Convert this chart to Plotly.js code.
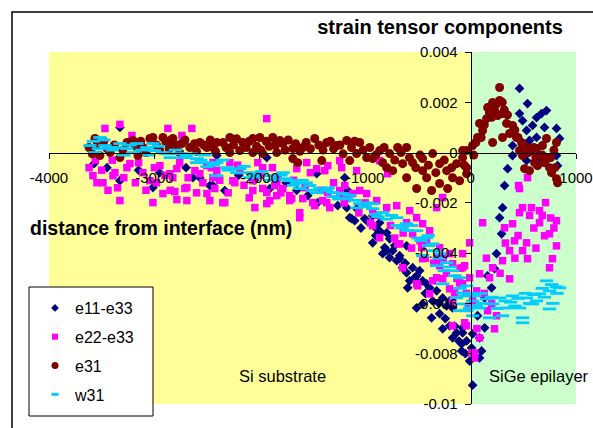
<!DOCTYPE html>
<html>
<head>
<meta charset="utf-8">
<script src="https://cdn.plot.ly/plotly-3.0.1.min.js"></script>
<style>html,body{margin:0;padding:0;background:#fff;}#chart{width:593px;height:428px;}</style>
</head>
<body>
<div id="chart"></div>
<script>
// ---- data ----
const seriesNames = ["e11-e33", "e22-e33", "e31", "w31"];

const e11X = [-3573,-3327,-3014,-2825,-2474,-2332,-1934,-2635,-3327,-2569,-2408,-2445,-1905,-1460,-1261,-1194,-1545,-1450,-1175,-1166,-1147,-1100,-1005,-1081,-938,-891,-863,-796,-929,-834,-929,-863,-815,-768,-739,-673,-607,-701,-645,-550,-483,-578,-512,-455,-597,-389,-322,-265,-199,-360,-455,-171,-227,-1128,-986,-863,-796,-768,-673,-607,-531,-417,-512,-370,-294,-265,-199,-133,-171,-76,-38,-85,-9,
  303,275,294,246,227,199,161,133,133,66,19,85,104,85,-85,-76,9,19,
  464,540,464,493,626,720,673,588,531,701,815,559,626,844,398,398,531,815,825,730,654,351,322,
  -3450,-3150,-2950,-2700,-2200,-2050,-1750,-1650,
  -1040,-900,-720,-620,-500,-430,-300,-240,-150,-110,-50];
const e11Y = [-0.00044,0.00100,-0.00139,0.00036,-0.00131,-0.00151,-0.00020,-0.00100,-0.00112,-0.00100,-0.00012,-0.00131,-0.00143,-0.00084,-0.00211,-0.00100,-0.00171,-0.00199,-0.00219,-0.00151,-0.00259,-0.00271,-0.00263,-0.00223,-0.00283,-0.00303,-0.00279,-0.00319,-0.00359,-0.00402,-0.00251,-0.00311,-0.00378,-0.00343,-0.00390,-0.00410,-0.00371,-0.00430,-0.00458,-0.00458,-0.00470,-0.00510,-0.00490,-0.00510,-0.00538,-0.00538,-0.00550,-0.00578,-0.00590,-0.00590,-0.00602,-0.00618,-0.00610,-0.00263,-0.00271,-0.00323,-0.00390,-0.00418,-0.00422,-0.00478,-0.00498,-0.00522,-0.00618,-0.00657,-0.00641,-0.00701,-0.00689,-0.00717,-0.00737,-0.00717,-0.00749,-0.00789,-0.00829,
  -0.00219,-0.00259,-0.00323,-0.00402,-0.00462,-0.00538,-0.00490,-0.00578,-0.00697,-0.00649,-0.00721,-0.00737,-0.00789,-0.00817,-0.00761,-0.00697,-0.00777,-0.00925,
  0.00255,0.00195,0.00155,0.00127,0.00139,0.00167,0.00155,0.00108,0.00088,0.00100,0.00096,0.00048,0.00060,0.00056,0.00028,-0.00012,-0.00032,-0.00012,-0.00052,-0.00024,-0.00020,-0.00064,-0.00131,
  -0.00060,-0.00070,-0.00080,-0.00060,-0.00090,-0.00110,-0.00120,-0.00150,
  -0.00300,-0.00330,-0.00370,-0.00440,-0.00520,-0.00560,-0.00600,-0.00660,-0.00690,-0.00750,-0.00800];

const e22X = [-3469,-3327,-2872,-2645,-2739,-3213,-1934,-3583,-3545,-3488,-3374,-3232,-3109,-2948,-3043,-2825,-2692,-2569,-2445,-2256,-2190,-2066,-1972,-1839,-3327,-3014,-2919,-2806,-2711,-2787,-2692,-2502,-2351,-2047,-1905,-1934,-1716,-3393,-3261,-2853,-2787,-2616,-2502,-2408,-2474,-2427,-2445,-2284,-2019,-1829,-1649,-1555,-1460,-1355,-1223,-2237,-2066,-1972,-1858,-1716,-1592,-1498,-1365,-1242,-2332,-1934,-1621,-1479,-1194,-1839,-1782,-1621,-1697,-1403,-1336,-1355,-1242,-1175,-1119,-1052,-986,-891,-796,-863,-929,-1242,-1384,-1081,-863,-787,-701,-578,-512,-455,-389,-607,-550,-692,-417,-294,-199,-322,-171,-76,-294,-9,-455,-645,-512,-389,-199,-76,-171,-322,-9,-265,-322,-929,-673,-502,-464,-360,-265,-152,-171,-57,9,-76,-57,-104,
  85,180,209,303,370,370,493,540,531,322,398,464,493,711,654,815,749,815,777,749,114,227,85,38,38,-38,161,57,19,246,540,455,464,578,654,417,701,
  -3620,-3560,-3500,-3440,-3400,-3350,-3290,-3180,-3150,-3080,-3000,-2980,-2900,-2850,-2760,-2680,-2600,-2540,-2460,-2380,-2300,-2210,-2150,-2100,-2000,-1880,-1800,-1680,-1570,-1520,-1420,-1300,-1200,-1060,-1000,-950,-880,-760,-720,-640,-560,-480,-430,-350,-260,-230,-130,-100,-40,-20,
  130,200,280,330,450,600,680,760,790,620,560,420,60,150];
const e22Y = [0.00096,0.00112,0.00096,0.00096,0.00068,0.00068,0.00135,-0.00092,-0.00120,-0.00120,-0.00080,-0.00044,-0.00080,-0.00052,-0.00112,-0.00100,-0.00139,-0.00084,-0.00100,-0.00112,-0.00072,-0.00112,-0.00060,-0.00120,-0.00191,-0.00199,-0.00163,-0.00155,-0.00143,-0.00187,-0.00191,-0.00163,-0.00199,-0.00219,-0.00191,-0.00159,-0.00191,-0.00092,-0.00060,-0.00084,-0.00064,-0.00072,-0.00052,-0.00072,-0.00191,-0.00143,-0.00040,-0.00040,-0.00040,-0.00100,-0.00064,-0.00040,-0.00064,-0.00052,-0.00060,-0.00120,-0.00151,-0.00143,-0.00131,-0.00171,-0.00183,-0.00199,-0.00199,-0.00171,-0.00199,-0.00203,-0.00239,-0.00211,-0.00131,-0.00171,-0.00143,-0.00259,-0.00183,-0.00191,-0.00219,-0.00159,-0.00151,-0.00183,-0.00163,-0.00151,-0.00163,-0.00191,-0.00219,-0.00339,-0.00239,-0.00032,-0.00072,-0.00072,-0.00032,-0.00084,-0.00211,-0.00231,-0.00259,-0.00283,-0.00311,-0.00279,-0.00323,-0.00363,-0.00359,-0.00378,-0.00402,-0.00422,-0.00442,-0.00458,-0.00450,-0.00359,-0.00422,-0.00458,-0.00522,-0.00562,-0.00542,-0.00522,-0.00590,-0.00498,-0.00498,-0.00179,-0.00219,-0.00291,-0.00363,-0.00530,-0.00378,-0.00510,-0.00502,-0.00558,-0.00689,-0.00677,-0.00797,-0.00402,-0.00450,-0.00518,
  -0.00482,-0.00498,-0.00458,-0.00430,-0.00502,-0.00390,-0.00390,-0.00422,-0.00359,-0.00299,-0.00283,-0.00239,-0.00219,-0.00199,-0.00279,-0.00271,-0.00323,-0.00371,-0.00422,-0.00458,-0.00279,-0.00701,-0.00737,-0.00797,-0.00817,-0.00689,-0.00629,-0.00550,-0.00590,-0.00649,-0.00100,-0.00131,-0.00143,-0.00219,-0.00231,-0.00351,-0.00331,
  -0.00060,-0.00030,-0.00070,-0.00150,-0.00030,-0.00140,-0.00100,-0.00120,-0.00040,-0.00150,-0.00060,-0.00120,-0.00090,-0.00150,-0.00040,-0.00100,-0.00160,-0.00120,-0.00060,-0.00110,-0.00160,-0.00050,-0.00130,-0.00180,-0.00090,-0.00060,-0.00160,-0.00110,-0.00140,-0.00080,-0.00150,-0.00120,-0.00200,-0.00240,-0.00200,-0.00280,-0.00250,-0.00290,-0.00340,-0.00320,-0.00380,-0.00350,-0.00420,-0.00440,-0.00420,-0.00480,-0.00500,-0.00460,-0.00560,-0.00620,
  -0.00560,-0.00600,-0.00480,-0.00360,-0.00330,-0.00300,-0.00250,-0.00260,-0.00300,-0.00380,-0.00250,-0.00420,-0.00700,-0.00420];

const e31X = [-3564,-3517,-3450,-3327,-3204,-3109,-3014,-2919,-2825,-2739,-2664,-2569,-2445,-2284,-2190,-2066,-1972,-1877,-1782,-1687,-3156,-3043,-2853,-2502,-2408,-2161,-2000,-1810,-1592,-1479,-1365,-1270,-1175,-2284,-2066,-1839,-1640,-1412,-1687,-1052,-957,-863,-768,-692,-607,-1147,-986,-834,-739,-645,-550,-455,-360,-294,-227,-133,-76,-38,-607,-512,-417,-370,-294,-218,-171,-104,-38,-455,-796,-929,-1081,
  -76,-38,19,66,114,85,152,161,209,275,275,227,256,303,341,398,370,303,209,436,483,531,493,464,578,626,682,720,815,654,607,635,730,749,768,815,825,512,559,180,
  -3620,-3590,-3540,-3480,-3420,-3380,-3300,-3260,-3180,-3130,-3080,-2980,-2950,-2890,-2860,-2790,-2760,-2710,-2620,-2600,-2530,-2470,-2420,-2350,-2320,-2250,-2220,-2130,-2100,-2030,-1990,-1940,-1910,-1850,-1760,-1730,-1660,-1620,-1560,-1520,-1440,-1400,-1330,-1300,-1240,-1210,-1130,-1100,-1020,-900,-820,-720,-660,-580,-520,-480,-400,-330,-250,-180,-60,
  30,50,100,130,180,200,240,300,320,350,420,450,500,550,600,620,680,700,760,790,800];
const e31Y = [0.00056,-0.00012,0.00016,-0.00020,0.00048,0.00020,0.00060,0.00060,0.00056,0.00036,0.00020,0.00040,0.00020,0.00060,0.00008,0.00056,-0.00004,0.00060,0.00036,0.00016,-0.00012,0.00056,0.00048,0.00020,0.00040,0.00040,0.00060,0.00048,0.00020,0.00056,0.00040,0.00028,0.00048,0.00000,0.00000,0.00000,-0.00040,-0.00032,-0.00024,0.00040,0.00020,0.00008,-0.00004,0.00020,0.00020,-0.00032,-0.00020,-0.00040,-0.00072,-0.00044,-0.00040,-0.00024,-0.00004,-0.00044,-0.00072,-0.00044,-0.00020,0.00008,-0.00100,-0.00143,-0.00100,-0.00151,-0.00123,-0.00143,-0.00100,-0.00112,-0.00084,-0.00072,-0.00060,-0.00024,-0.00004,
  0.00008,-0.00060,0.00028,0.00060,0.00088,0.00116,0.00135,0.00179,0.00199,0.00207,0.00259,0.00167,0.00147,0.00155,0.00116,0.00108,0.00076,0.00060,0.00040,0.00060,0.00040,0.00020,-0.00012,0.00008,0.00008,0.00016,0.00028,0.00056,0.00040,-0.00012,-0.00040,-0.00052,-0.00024,-0.00060,-0.00080,-0.00104,-0.00120,-0.00064,-0.00072,0.00160,
  0.00020,-0.00005,0.00035,0.00045,0.00000,0.00030,0.00010,0.00040,0.00025,0.00045,0.00000,0.00030,0.00010,0.00040,0.00015,0.00030,0.00000,0.00050,0.00035,0.00005,0.00030,0.00050,0.00005,0.00040,0.00020,0.00030,0.00055,0.00020,0.00045,0.00025,0.00010,0.00045,0.00025,0.00030,0.00010,0.00050,0.00035,0.00005,0.00040,0.00015,0.00030,0.00010,0.00045,0.00015,0.00030,-0.00005,0.00020,0.00045,0.00010,-0.00010,0.00020,-0.00030,0.00000,-0.00020,-0.00060,-0.00010,-0.00050,-0.00080,-0.00030,-0.00060,-0.00050,
  -0.00010,0.00040,0.00060,0.00110,0.00160,0.00140,0.00190,0.00200,0.00170,0.00150,0.00090,0.00060,0.00030,0.00000,0.00020,-0.00020,-0.00010,-0.00040,-0.00020,0.00010,-0.00060];

const w31X = [-3517,-3422,-3261,-3071,-2919,-2758,-2597,-2474,-3327,-3166,-3014,-3612,-3564,-3469,-2408,-2313,-2218,-2066,-1905,-1744,-1649,-1526,-1431,-1308,-1213,-2408,-2190,-2095,-1716,-1365,-1621,-1175,-1052,-929,-834,-929,-701,-607,-512,-417,-360,-294,-227,-171,-104,-38,-322,-455,-265,-133,-76,-9,-104,
  -3400,-3200,-3000,-2850,-2700,-2600,-2500,-2300,-2100,-1900,-1800,-1600,-1500,-1300,-1100,-1000,-900,-800,-700,-600,-500,-400,-300,-200,-100,0,
  -76,19,152,275,398,531,654,749,844,720,815,85,209,341,464,588,19,180,303,493,493,749,-38,626,50,120,250,380,450,600,700,780,
  -3580,-3530,-3480,-3360,-3290,-3230,-3120,-3050,-2960,-2880,-2800,-2720,-2650,-2560,-2520,-2440,-2350,-2270,-2150,-2050,-1980,-1850,-1780,-1680,-1560,-1460,-1350,-1250,-1150,-1080,-980,-880,-750,-650,-560,-470,-400,-340,-250,-150,-60,
  30,100,200,330,420,520,560,680,770,820];
const w31Y = [0.00060,0.00020,0.00016,0.00020,0.00000,-0.00004,-0.00024,-0.00040,0.00036,0.00036,0.00036,0.00028,0.00000,0.00028,-0.00040,-0.00060,-0.00080,-0.00084,-0.00092,-0.00104,-0.00120,-0.00131,-0.00143,-0.00159,-0.00163,-0.00092,-0.00064,-0.00080,-0.00112,-0.00151,-0.00143,-0.00183,-0.00203,-0.00223,-0.00239,-0.00203,-0.00259,-0.00283,-0.00311,-0.00339,-0.00363,-0.00402,-0.00438,-0.00470,-0.00498,-0.00530,-0.00450,-0.00410,-0.00522,-0.00578,-0.00602,-0.00618,-0.00629,
  0.00010,0.00000,0.00008,-0.00020,-0.00012,-0.00040,-0.00056,-0.00070,-0.00100,-0.00110,-0.00090,-0.00110,-0.00150,-0.00175,-0.00190,-0.00215,-0.00245,-0.00265,-0.00290,-0.00310,-0.00340,-0.00370,-0.00420,-0.00455,-0.00540,-0.00560,
  -0.00558,-0.00590,-0.00582,-0.00578,-0.00570,-0.00578,-0.00562,-0.00550,-0.00538,-0.00510,-0.00534,-0.00618,-0.00602,-0.00618,-0.00618,-0.00602,-0.00649,-0.00657,-0.00649,-0.00657,-0.00677,-0.00622,-0.00629,-0.00590,-0.00610,-0.00600,-0.00620,-0.00595,-0.00580,-0.00565,-0.00575,-0.00600,
  0.00045,0.00015,0.00050,0.00020,-0.00010,0.00030,0.00010,-0.00010,0.00025,-0.00005,0.00010,-0.00020,-0.00005,-0.00030,-0.00010,-0.00050,-0.00030,-0.00065,-0.00055,-0.00095,-0.00075,-0.00105,-0.00080,-0.00130,-0.00120,-0.00160,-0.00140,-0.00185,-0.00170,-0.00220,-0.00200,-0.00255,-0.00250,-0.00300,-0.00290,-0.00350,-0.00330,-0.00390,-0.00470,-0.00490,-0.00570,
  -0.00570,-0.00560,-0.00575,-0.00590,-0.00610,-0.00560,-0.00600,-0.00540,-0.00525,-0.00560];

const xTickVals = [-4000, -3000, -2000, -1000, 0, 1000];
const xTickText = ["-4000", "-3000", "-2000", "-1000", "0", "1000"];
const yTickVals = [0.004, 0.002, 0, -0.002, -0.004, -0.006, -0.008, -0.01];
const yTickText = ["0.004", "0.002", "0", "-0.002", "-0.004", "-0.006", "-0.008", "-0.01"];
const regionBounds = [-4000, 0, 1000];
const regionLabels = ["Si substrate", "SiGe epilayer"];

// ---- chart ----
const FONT = "Arial, 'Liberation Sans', sans-serif";
const styles = [
  {symbol: "diamond", size: 7.5, color: "#000080"},
  {symbol: "square", size: 7.5, color: "#FF00FF"},
  {symbol: "circle", size: 9, color: "#800000"},
  {symbol: "line-ew", size: 9.5, color: "#00CCFF", line: {color: "#00CCFF", width: 2.8}}
];
const legendStyles = [
  {symbol: "diamond", size: 6, color: "#000080"},
  {symbol: "square", size: 6, color: "#FF00FF"},
  {symbol: "circle", size: 7, color: "#800000"},
  {symbol: "line-ew", size: 5, color: "#00CCFF", line: {color: "#00CCFF", width: 3}}
];
const dataX = [e11X, e22X, e31X, w31X];
const dataY = [e11Y, e22Y, e31Y, w31Y];
const groups = ["a", "b", "c", "d"];
const traces = [];
for (let i = 0; i < 4; i++) {
  traces.push({x: dataX[i], y: dataY[i], name: seriesNames[i], legendgroup: groups[i], showlegend: false,
               type: "scatter", mode: "markers", marker: styles[i]});
}
for (let i = 0; i < 4; i++) {
  // legend entries (no points drawn)
  traces.push({x: [null], y: [null], name: seriesNames[i], legendgroup: groups[i], showlegend: true,
               type: "scatter", mode: "markers", marker: legendStyles[i]});
}

const L = 49, R = 17, T = 52, B = 24, W = 593, H = 428;
const pw = W - L - R, ph = H - T - B;
const px2x = p => (p - L) / pw;
const py2y = p => (H - B - p) / ph;

const layout = {
  width: W, height: H,
  margin: {l: L, r: R, t: T, b: B, pad: 0},
  paper_bgcolor: "#ffffff",
  plot_bgcolor: "#ffffff",
  font: {family: FONT, color: "#000000", size: 15},
  showlegend: true,
  title: {text: "<b>strain tensor components</b>", font: {family: FONT, size: 20, color: "#000"},
          xref: "paper", x: px2x(440), xanchor: "center", yref: "container", y: 1 - 27 / H, yanchor: "middle"},
  xaxis: {range: [regionBounds[0], regionBounds[2]], anchor: "free", position: (0 - (-0.01)) / 0.014,
          showline: true, linecolor: "#000", linewidth: 1, ticks: "outside", ticklen: 5, tickcolor: "#000",
          tickvals: xTickVals, ticktext: xTickText, showgrid: false, zeroline: false,
          tickfont: {family: FONT, size: 15, color: "#000"}, ticklabelstandoff: 6},
  yaxis: {range: [-0.01, 0.004], anchor: "free", position: (0 - regionBounds[0]) / (regionBounds[2] - regionBounds[0]),
          showline: true, linecolor: "#000", linewidth: 1, ticks: "outside", ticklen: 6, tickcolor: "#000",
          tickvals: yTickVals, ticktext: yTickText, showgrid: false, zeroline: false,
          tickfont: {family: FONT, size: 15, color: "#000"}, ticklabelstandoff: 4},
  legend: {x: px2x(35), xanchor: "left", y: py2y(291), yanchor: "top", bgcolor: "rgba(0,0,0,0)",
           borderwidth: 0, font: {family: FONT, size: 16, color: "#000"}, tracegroupgap: 5, itemwidth: 30},
  shapes: [
    {type: "rect", xref: "x", yref: "paper", x0: regionBounds[0], x1: regionBounds[1], y0: 0, y1: 1,
     fillcolor: "#FFFF99", line: {width: 0}, layer: "below"},
    {type: "rect", xref: "x", yref: "paper", x0: regionBounds[1], x1: regionBounds[2], y0: 0, y1: 1,
     fillcolor: "#CCFFCC", line: {width: 0}, layer: "below"},
    {type: "rect", xref: "paper", yref: "paper", x0: px2x(29), x1: px2x(153), y0: py2y(416), y1: py2y(287),
     fillcolor: "#ffffff", line: {color: "#000", width: 1}, layer: "above"},
    {type: "rect", xref: "paper", yref: "paper", x0: px2x(12), x1: px2x(640), y0: py2y(480), y1: py2y(12),
     fillcolor: "rgba(0,0,0,0)", line: {color: "#000", width: 1.5}, layer: "above"}
  ],
  annotations: [
    {text: "<b>distance from interface (nm)</b>", xref: "paper", yref: "paper", x: px2x(28), xanchor: "left",
     y: py2y(228), yanchor: "middle", showarrow: false, font: {family: FONT, size: 19.5, color: "#000"}},
    {text: regionLabels[0], xref: "paper", yref: "paper", x: px2x(282), xanchor: "center",
     y: py2y(376), yanchor: "middle", showarrow: false, font: {family: FONT, size: 16.5, color: "#000"}},
    {text: regionLabels[1], xref: "paper", yref: "paper", x: px2x(487), xanchor: "left",
     y: py2y(376), yanchor: "middle", showarrow: false, font: {family: FONT, size: 16.5, color: "#000"}}
  ]
};

Plotly.newPlot("chart", traces, layout, {staticPlot: true, displayModeBar: false});
</script>
</body>
</html>
